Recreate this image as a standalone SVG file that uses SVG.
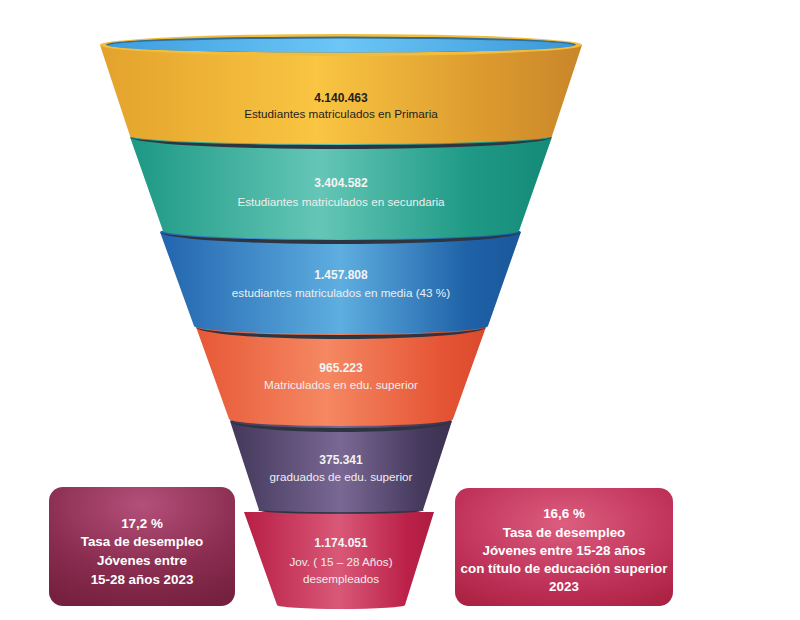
<svg xmlns="http://www.w3.org/2000/svg" width="800" height="620" viewBox="0 0 800 620">
<defs>
<linearGradient id="gY" x1="0" x2="1" y1="0" y2="0"><stop offset="0" stop-color="#e3a22c"/><stop offset="0.45" stop-color="#f9c542"/><stop offset="0.8" stop-color="#dc9a2e"/><stop offset="1" stop-color="#c9862a"/></linearGradient>
<linearGradient id="gT" x1="0" x2="1" y1="0" y2="0"><stop offset="0" stop-color="#1c9884"/><stop offset="0.45" stop-color="#64c6b6"/><stop offset="0.8" stop-color="#1f9a86"/><stop offset="1" stop-color="#148a78"/></linearGradient>
<linearGradient id="gB" x1="0" x2="1" y1="0" y2="0"><stop offset="0" stop-color="#2264ae"/><stop offset="0.5" stop-color="#5eaee0"/><stop offset="0.85" stop-color="#1f62a8"/><stop offset="1" stop-color="#1a5799"/></linearGradient>
<linearGradient id="gO" x1="0" x2="1" y1="0" y2="0"><stop offset="0" stop-color="#e75836"/><stop offset="0.45" stop-color="#f58862"/><stop offset="0.85" stop-color="#e55434"/><stop offset="1" stop-color="#dc4a2e"/></linearGradient>
<linearGradient id="gP" x1="0" x2="1" y1="0" y2="0"><stop offset="0" stop-color="#42375a"/><stop offset="0.5" stop-color="#7a6894"/><stop offset="0.85" stop-color="#463a5e"/><stop offset="1" stop-color="#3c3152"/></linearGradient>
<linearGradient id="gC" x1="0" x2="1" y1="0" y2="0"><stop offset="0" stop-color="#b81e46"/><stop offset="0.5" stop-color="#d95878"/><stop offset="0.85" stop-color="#bc2249"/><stop offset="1" stop-color="#ae1b41"/></linearGradient>
<linearGradient id="gW" x1="0" x2="1" y1="0" y2="0"><stop offset="0" stop-color="#3d9ede"/><stop offset="0.5" stop-color="#6cc6f6"/><stop offset="1" stop-color="#3a98d8"/></linearGradient>
<radialGradient id="gL" cx="0.5" cy="0.15" r="0.9"><stop offset="0" stop-color="#b4507a"/><stop offset="0.6" stop-color="#8a2d50"/><stop offset="1" stop-color="#76203f"/></radialGradient>
<radialGradient id="gR" cx="0.5" cy="0.3" r="0.85"><stop offset="0" stop-color="#dc5e7e"/><stop offset="0.6" stop-color="#c0325a"/><stop offset="1" stop-color="#a8203f"/></radialGradient>
<style>
.rim{fill:#2d3541}
.num{font-family:"Liberation Sans",Arial,sans-serif;font-size:12px;font-weight:bold;text-anchor:middle;fill:#f4f4f4}
.lbl{font-family:"Liberation Sans",Arial,sans-serif;font-size:11.7px;text-anchor:middle;fill:#eeeeee}
.dark{fill:#1e1e1e}
.box{font-family:"Liberation Sans",Arial,sans-serif;font-size:13.4px;font-weight:bold;text-anchor:middle;fill:#ffffff}
</style>
</defs>
<rect width="800" height="620" fill="#ffffff"/>

<g id="desempleados">
<path d="M244,512 L277,605 A64,4 0 0 0 405,605 L434,512 Z" fill="url(#gC)"/>
<text class="num" x="341" y="547">1.174.051</text>
<text class="lbl" x="341" y="566">Jov. ( 15 – 28 Años)</text>
<text class="lbl" x="341" y="583">desempleados</text>
</g>

<g id="graduados">
<path d="M230,421 L259,510 A82,3 0 0 0 423,510 L452,421 A111,7 0 0 0 230,421 Z" fill="url(#gP)"/>
<path d="M230,421 A111,7 0 0 0 452,421 A111,11 0 0 1 230,421 Z" class="rim"/>
<path d="M259,510 A82,3 0 0 0 423,510" fill="none" stroke="#2d3541" stroke-width="1.5"/>
<text class="num" x="341" y="464">375.341</text>
<text class="lbl" x="341" y="481">graduados de edu. superior</text>
</g>

<g id="superior">
<path d="M196,327 L229,419 A112,7 0 0 0 453,419 L486,327 A145,8 0 0 0 196,327 Z" fill="url(#gO)"/>
<path d="M196,327 A145,8 0 0 0 486,327 A145,12 0 0 1 196,327 Z" class="rim"/>
<text class="num" x="341" y="372">965.223</text>
<text class="lbl" x="341" y="389">Matriculados en edu. superior</text>
</g>

<g id="media">
<path d="M160,232 L194,326 A147,8 0 0 0 488,326 L521,232 A180,8 0 0 0 160,232 Z" fill="url(#gB)"/>
<path d="M160,232 A180,8 0 0 0 521,232 A180,12 0 0 1 160,232 Z" class="rim"/>
<text class="num" x="341" y="279">1.457.808</text>
<text class="lbl" x="341" y="297">estudiantes matriculados en media (43 %)</text>
</g>

<g id="secundaria">
<path d="M130,137 L163,231 A178,8 0 0 0 519,231 L552,137 A211,8 0 0 0 130,137 Z" fill="url(#gT)"/>
<path d="M130,137 A211,8 0 0 0 552,137 A211,12 0 0 1 130,137 Z" class="rim"/>
<text class="num" x="341" y="187">3.404.582</text>
<text class="lbl" x="341" y="206">Estudiantes matriculados en secundaria</text>
</g>

<g id="primaria">
<path d="M100,45 L130,136 A211,8 0 0 0 552,136 L582,45 Z" fill="url(#gY)"/>
<ellipse cx="341" cy="45" rx="241" ry="11" fill="#f3bd3c"/>
<ellipse cx="341" cy="44.5" rx="235" ry="8" fill="#2f6f9c"/>
<ellipse cx="341" cy="45.5" rx="233" ry="7" fill="url(#gW)"/>
<text class="num dark" x="341" y="102">4.140.463</text>
<text class="lbl dark" x="341" y="118">Estudiantes matriculados en Primaria</text>
</g>

<g id="tasa-jovenes">
<rect x="49" y="487" width="186" height="119" rx="14" fill="url(#gL)"/>
<text class="box" x="142" y="528">17,2 %</text>
<text class="box" x="142" y="546">Tasa de desempleo</text>
<text class="box" x="142" y="565">Jóvenes entre</text>
<text class="box" x="142" y="584">15-28 años 2023</text>
</g>

<g id="tasa-superior">
<rect x="455" y="488" width="218" height="118" rx="14" fill="url(#gR)"/>
<text class="box" x="564" y="518">16,6 %</text>
<text class="box" x="564" y="537">Tasa de desempleo</text>
<text class="box" x="564" y="555">Jóvenes entre 15-28 años</text>
<text class="box" x="564" y="573">con título de educación superior</text>
<text class="box" x="564" y="591">2023</text>
</g>

<g id="connectors"/>
</svg>
